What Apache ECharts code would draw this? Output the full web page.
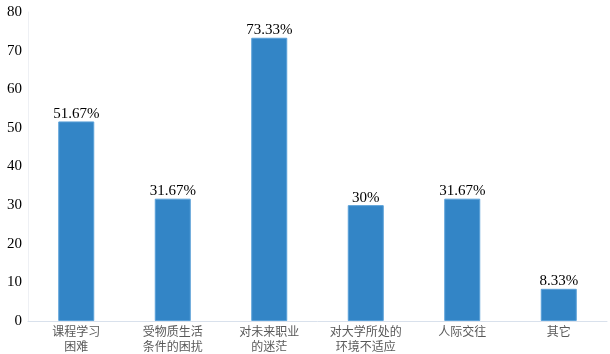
<!DOCTYPE html>
<html><head><meta charset="utf-8">
<script src="https://cdn.jsdelivr.net/npm/echarts@6/dist/echarts.min.js"></script>
<style>html,body{margin:0;padding:0;background:#fff}#c{width:610px;height:354px}</style>
</head><body><div id="c"></div>
<script>
var categories = ['课程学习\n困难', '受物质生活\n条件的困扰', '对未来职业\n的迷茫', '对大学所处的\n环境不适应', '人际交往', '其它'];
var values = [51.67, 31.67, 73.33, 30, 31.67, 8.33];
var labels = ['51.67%', '31.67%', '73.33%', '30%', '31.67%', '8.33%'];
var chart = echarts.init(document.getElementById('c'));
chart.setOption({
  animation: false,
  grid: {left: 28, right: 3, top: 12, bottom: 33},
  xAxis: {
    type: 'category', data: categories,
    axisLine: {lineStyle: {color: '#d9e1ec', width: 1}},
    axisTick: {show: false},
    axisLabel: {color: '#595959', fontSize: 12, lineHeight: 15, margin: 3, fontFamily: 'Noto Sans CJK SC', interval: 0}
  },
  yAxis: {
    type: 'value', min: 0, max: 80, interval: 10,
    axisLine: {show: true, lineStyle: {color: '#eef0f4'}},
    splitLine: {show: false},
    axisLabel: {color: '#000', fontSize: 15, fontFamily: 'Liberation Serif', margin: 6}
  },
  series: [{
    type: 'bar', data: values, barWidth: 36,
    itemStyle: {color: '#3385c6', borderColor: '#5aa0d8', borderWidth: 1},
    label: {show: true, position: 'top', distance: 0, color: '#000', fontSize: 15, fontFamily: 'Liberation Serif',
      formatter: function(p){ return labels[p.dataIndex]; }}
  }]
});
</script></body></html>
